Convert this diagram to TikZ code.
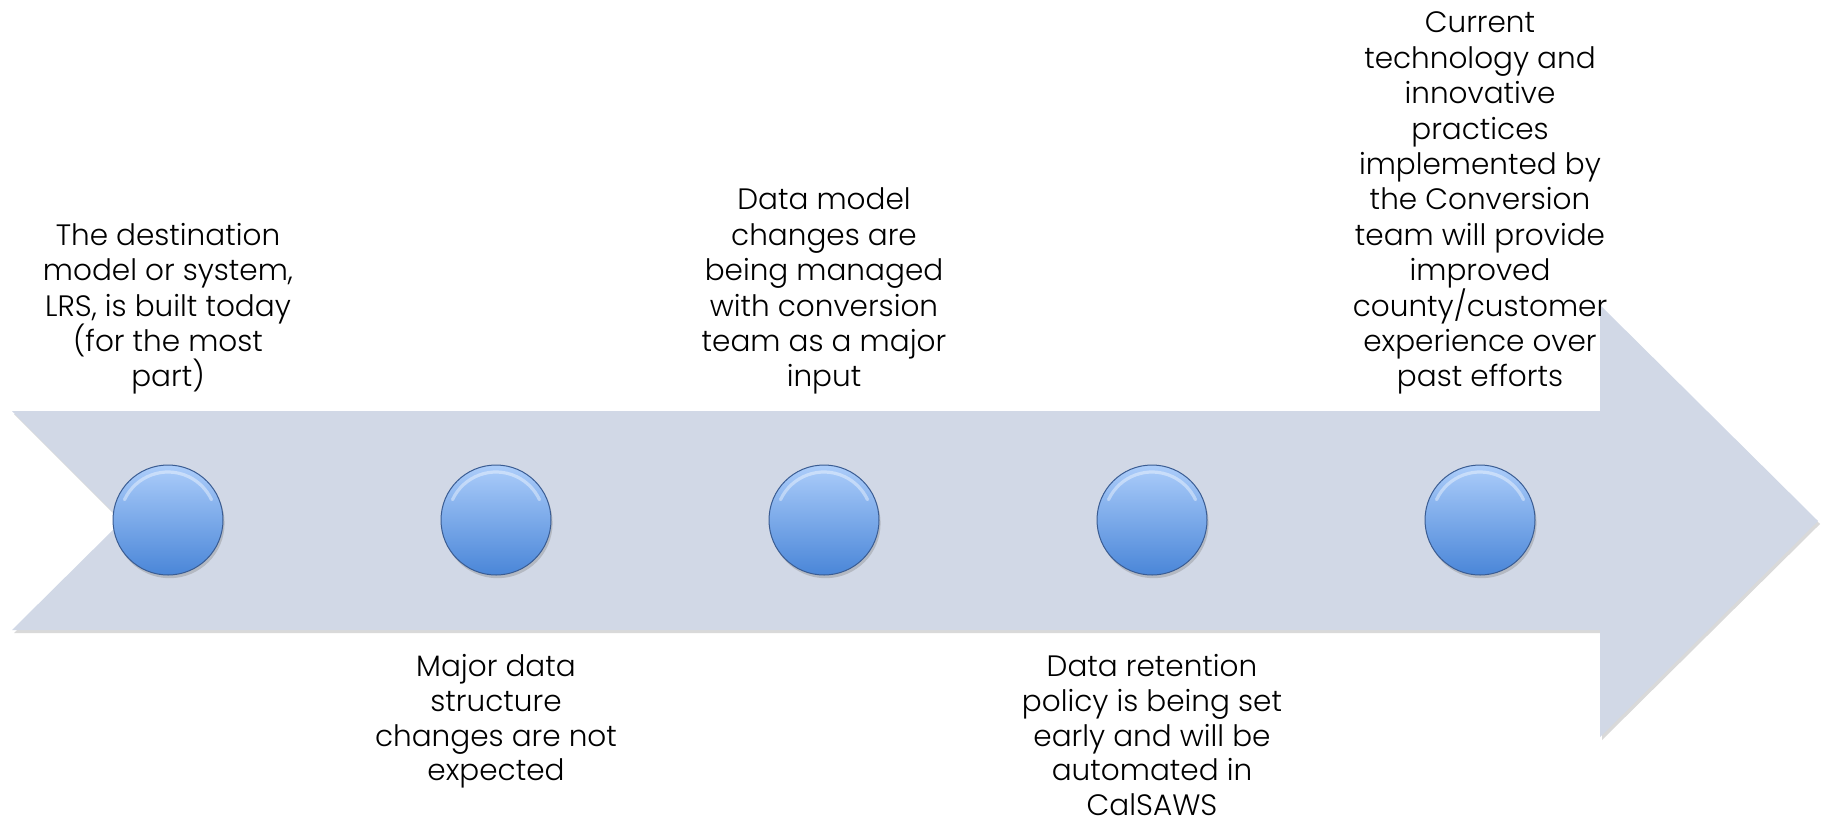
\documentclass[tikz,border=0pt]{standalone}
\usepackage{fontspec}
\setmainfont{Poppins}[UprightFont=* Light]
\usetikzlibrary{shadows}
\definecolor{arrowfill}{RGB}{209,216,230}
\definecolor{balltop}{RGB}{172,205,250}
\definecolor{ballbot}{RGB}{74,134,216}
\definecolor{ballrim}{RGB}{58,92,146}
\begin{document}
\begin{tikzpicture}[x=0.5pt,y=-0.5pt,
  txt/.style={align=center,inner sep=0pt,text=black,
    font=\fontsize{14.75pt}{17.7pt}\selectfont},
  toplbl/.style={txt,anchor=south},
  botlbl/.style={txt,anchor=north,font=\fontsize{14.75pt}{17.4pt}\selectfont},
  ball/.style={circle,minimum size=55pt,inner sep=0pt,
    top color=balltop,bottom color=ballbot,draw=ballrim,line width=0.5pt,
    drop shadow={shadow xshift=0.8pt,shadow yshift=-1.6pt,opacity=0.35}},
  gloss/.style={white,opacity=0.4,line width=1.6pt,line cap=round}]
\useasboundingbox (0,0) rectangle (1825,820);

% timeline arrow with a notched tail
\path[fill=arrowfill,
  drop shadow={shadow xshift=1pt,shadow yshift=-1.5pt,opacity=0.3}]
  (12,411) -- (1600,411) -- (1600,305) -- (1818,521) -- (1600,737)
  -- (1600,630) -- (12,630) -- (122,521) -- cycle;

% milestone balls
\foreach \i/\x in {1/168,2/496,3/824,4/1152,5/1480}{
  \node[ball] (b\i) at (\x,520) {};
  \draw[gloss] (b\i.center) ++(205:48) arc[start angle=205,end angle=335,radius=48];
}

% milestone texts
\node[toplbl] (t1) at (168,395) {The destination\\model or system,\\LRS, is built today\\(for the most\\part)};
\node[botlbl] (t2) at (496,654) {Major data\\structure\\changes are not\\expected};
\node[toplbl] (t3) at (824,395) {Data model\\changes are\\being managed\\with conversion\\team as a major\\input};
\node[botlbl] (t4) at (1152,654) {Data retention\\policy is being set\\early and will be\\automated in\\CalSAWS};
\node[toplbl] (t5) at (1480,395) {Current\\technology and\\innovative\\practices\\implemented by\\the Conversion\\team will provide\\improved\\county/customer\\experience over\\past efforts};
\end{tikzpicture}
\end{document}
